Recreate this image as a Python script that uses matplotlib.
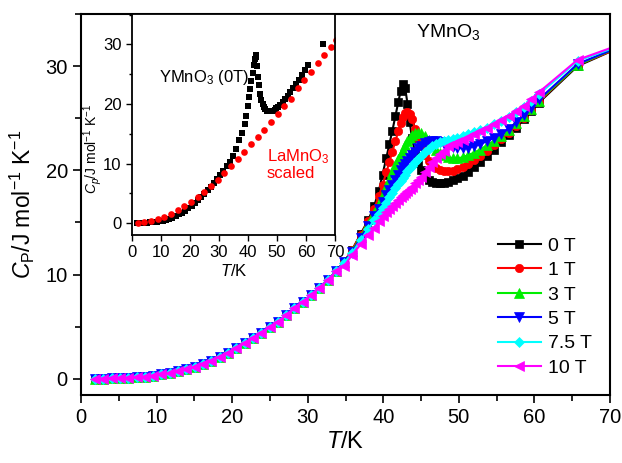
import matplotlib
matplotlib.use('Agg')
import matplotlib.pyplot as plt
from matplotlib.ticker import MultipleLocator

plt.rcParams['font.family'] = ['Liberation Sans', 'DejaVu Sans']
plt.rcParams['mathtext.fontset'] = 'custom'
plt.rcParams['mathtext.rm'] = 'Liberation Sans'
plt.rcParams['mathtext.it'] = 'Liberation Sans:italic'

# low temperature part: all fields fall on the same curve
t_low = [1.85, 2.95, 4.05, 5.15, 6.25, 7.35, 8.45, 9.55, 10.65, 11.75, 12.85, 13.95,
         15.05, 16.15, 17.25, 18.35, 19.45, 20.55, 21.65, 22.75, 23.85, 24.95, 26.05,
         27.15, 28.25, 29.35, 30.45, 31.55, 32.65, 33.75]
cp_low = [0.01, 0.02, 0.035, 0.06, 0.1, 0.15, 0.22, 0.31, 0.42, 0.55, 0.72, 0.92,
          1.15, 1.45, 1.75, 2.1, 2.5, 2.95, 3.4, 3.9, 4.4, 4.95, 5.5,
          6.1, 6.75, 7.4, 8.05, 8.75, 9.5, 10.3]

# transition region and above
t_hi = [34.8, 35.9, 37.0, 38.0, 38.8, 39.4, 39.9, 40.4, 40.8, 41.2, 41.6, 42.0, 42.3,
        42.6, 42.9, 43.2, 43.5, 43.8, 44.2, 44.6, 45.0, 45.5, 46.0, 46.5, 47.0, 47.5,
        48.0, 48.6, 49.2, 49.8, 50.5, 51.2, 52.0, 52.8, 53.7, 54.6, 55.6, 56.6, 57.6,
        58.6, 59.6, 60.6, 65.7, 70.7]
cp_0T = [11.2, 12.4, 13.9, 15.2, 16.6, 18.0, 19.6, 21.2, 22.5, 23.8, 25.2, 26.6, 27.6,
         28.3, 27.9, 26.4, 24.6, 23.1, 21.7, 20.7, 20.0, 19.5, 19.1, 18.9, 18.8, 18.75,
         18.8, 18.9, 19.05, 19.25, 19.5, 19.85, 20.3, 20.8, 21.4, 22.0, 22.7, 23.4, 24.1,
         24.9, 25.7, 26.5, 30.0, 31.6]
cp_1T = [11.2, 12.4, 13.8, 15.1, 16.3, 17.5, 18.6, 19.8, 20.8, 21.8, 22.8, 23.8, 24.5,
         25.1, 25.5, 25.6, 25.4, 24.9, 24.0, 23.1, 22.3, 21.5, 20.9, 20.5, 20.2, 20.0,
         19.9, 19.9, 19.95, 20.1, 20.3, 20.6, 21.0, 21.4, 21.9, 22.4, 23.0, 23.6, 24.3,
         25.0, 25.8, 26.6, 30.1, 31.6]
cp_3T = [11.2, 12.3, 13.6, 14.9, 15.9, 16.8, 17.6, 18.4, 19.1, 19.8, 20.5, 21.1, 21.6,
         22.0, 22.4, 22.8, 23.1, 23.35, 23.55, 23.6, 23.55, 23.3, 22.9, 22.4, 22.0, 21.7,
         21.45, 21.25, 21.15, 21.15, 21.25, 21.45, 21.7, 22.0, 22.4, 22.8, 23.3, 23.9, 24.5,
         25.2, 25.9, 26.7, 30.1, 31.7]
cp_5T = [11.2, 12.2, 13.5, 14.7, 15.6, 16.3, 17.0, 17.6, 18.1, 18.6, 19.1, 19.6, 20.0,
         20.3, 20.6, 20.9, 21.2, 21.5, 21.8, 22.1, 22.35, 22.6, 22.75, 22.8, 22.8, 22.7,
         22.55, 22.4, 22.25, 22.15, 22.1, 22.15, 22.3, 22.5, 22.8, 23.1, 23.5, 24.0, 24.6,
         25.3, 26.0, 26.8, 30.2, 31.7]
cp_7T = [11.1, 12.1, 13.3, 14.4, 15.2, 15.8, 16.4, 16.9, 17.4, 17.8, 18.3, 18.7, 19.0,
         19.3, 19.6, 19.9, 20.2, 20.45, 20.8, 21.1, 21.4, 21.75, 22.05, 22.35, 22.55, 22.7,
         22.85, 22.95, 23.05, 23.15, 23.3, 23.45, 23.65, 23.85, 24.1, 24.4, 24.75, 25.15, 25.6,
         26.1, 26.7, 27.3, 30.5, 31.8]
cp_10T = [10.8, 11.9, 12.9, 13.8, 14.5, 15.1, 15.6, 16.0, 16.3, 16.6, 16.9, 17.2, 17.4,
          17.6, 17.8, 18.0, 18.2, 18.4, 18.8, 19.1, 19.4, 19.8, 20.3, 20.8, 21.2, 21.6,
          21.9, 22.3, 22.55, 22.75, 22.95, 23.2, 23.45, 23.75, 24.05, 24.4, 24.8, 25.25, 25.7,
          26.2, 26.8, 27.5, 30.6, 31.9]

fields = ['0 T', '1 T', '3 T', '5 T', '7.5 T', '10 T']
series = [cp_0T, cp_1T, cp_3T, cp_5T, cp_7T, cp_10T]
colors = ['#000000', '#ff0000', '#00ee00', '#0000ff', '#00ffff', '#ff00ff']
markers = ['s', 'o', '^', 'v', 'D', '<']
msizes = [5.5, 6, 6.5, 6.5, 5, 7]

# inset: scaled LaMnO3 reference
la_T = [1.9, 4.2, 6.5, 8.8, 11.1, 13.4, 15.7, 18.0, 20.3, 22.6, 24.9, 27.2, 29.5, 31.8,
        34.1, 36.4, 38.7, 41.0, 43.3, 45.6, 47.9, 50.2, 52.5, 54.8, 57.1, 59.4, 61.7,
        64.0, 66.3, 68.6, 70.4]
la_cp = [0.0, 0.1, 0.3, 0.7, 1.1, 1.6, 2.2, 2.9, 3.6, 4.4, 5.3, 6.3, 7.3, 8.4,
         9.5, 10.7, 11.9, 13.2, 14.4, 15.7, 17.0, 18.3, 19.6, 20.9, 22.6, 24.0, 25.4,
         26.8, 28.2, 29.6, 30.8]

fig = plt.figure(figsize=(6.22, 4.63), dpi=100)
ax = fig.add_axes([81 / 622, 1 - 395 / 463, 529 / 622, 381 / 463])

for cp, lab, c, m, ms in zip(series, fields, colors, markers, msizes):
    ax.plot(t_low + t_hi, cp_low + cp, color=c, marker=m, ms=ms, mec=c, mew=0.5,
            lw=1.5, label=lab)

ax.set_xlim(0, 70)
ax.set_ylim(-1.55, 35)
ax.xaxis.set_major_locator(MultipleLocator(10))
ax.xaxis.set_minor_locator(MultipleLocator(5))
ax.yaxis.set_major_locator(MultipleLocator(10))
ax.yaxis.set_minor_locator(MultipleLocator(5))
ax.tick_params(which='both', direction='out', labelsize=14.5, width=1.2, top=False, right=False)
ax.tick_params(which='major', length=6)
ax.tick_params(which='minor', length=4)
for s in ax.spines.values():
    s.set_linewidth(1.5)
ax.set_xlabel('$\\mathit{T}$/K', fontsize=17, labelpad=3)
ax.set_ylabel('$\\mathit{C}_\\mathrm{P}$/J mol$^{-1}$ K$^{-1}$', fontsize=16.5, labelpad=6)
fig.text(448 / 622, 1 - 32 / 463, 'YMnO$_3$', fontsize=14, ha='center', va='center')

leg = ax.legend(loc='upper left', bbox_to_anchor=(0.77, 0.44), frameon=False, fontsize=14,
                handlelength=2.2, handletextpad=0.35, labelspacing=0.35, borderpad=0)

# inset
ins = fig.add_axes([132 / 622, 1 - 235 / 463, 203 / 622, 221 / 463])
ins.plot(t_low + t_hi[:-1], cp_low + cp_0T[:-1], ls='none', marker='s', ms=3.8,
         color='black', mew=0)
ins.plot(la_T, la_cp, ls='none', marker='o', ms=4.8, color='#ff0000', mew=0)
ins.set_xlim(0, 70)
ins.set_ylim(-2, 35.1)
ins.xaxis.set_major_locator(MultipleLocator(10))
ins.yaxis.set_major_locator(MultipleLocator(10))
ins.yaxis.set_minor_locator(MultipleLocator(5))
ins.tick_params(which='both', direction='out', labelsize=12, width=1, top=False, right=False)
ins.tick_params(which='major', length=4)
ins.tick_params(which='minor', length=2.5)
for s in ins.spines.values():
    s.set_linewidth(1.3)
ins.set_xlabel('$\\mathit{T}$/K', fontsize=12, labelpad=2)
ins.set_ylabel('$\\mathit{C}_\\mathit{p}$/J mol$^{-1}$ K$^{-1}$', fontsize=10)
ins.yaxis.set_label_coords(-0.14, 0.39)
ins.text(9.3, 24.5, 'YMnO$_3$ (0T)', fontsize=12, ha='left', va='center')
ins.text(46.5, 9.9, 'LaMnO$_3$\nscaled', fontsize=12, ha='left', va='center',
         color='#ff0000', linespacing=1.05)

fig.savefig('out.png', dpi=100)
